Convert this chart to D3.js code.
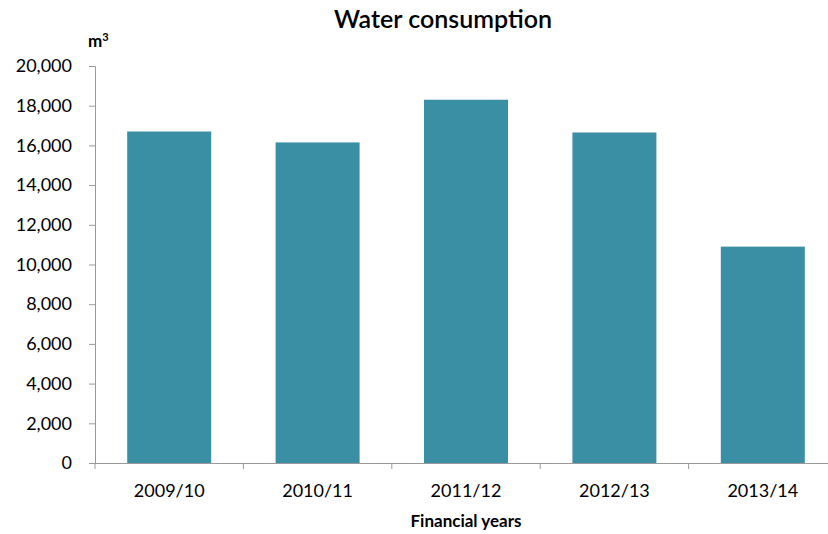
<!DOCTYPE html>
<html>
<head>
<meta charset="utf-8">
<script src="https://cdn.jsdelivr.net/npm/d3@7"></script>
<style>
  body { margin: 0; background: #fff; }
  svg { display: block; font-family: Lato, "Open Sans", sans-serif; }
</style>
</head>
<body>
<div id="chart"></div>
<script>
// values
const years = ["2009/10", "2010/11", "2011/12", "2012/13", "2013/14"];
const consumption = [16700, 16150, 18300, 16650, 10900];
const yTicks = [0, 2000, 4000, 6000, 8000, 10000, 12000, 14000, 16000, 18000, 20000];

const width = 828, height = 534;
const margin = { top: 66, right: -9, bottom: 71, left: 95 };

const svg = d3.select("#chart")
    .append("svg")
    .attr("width", width)
    .attr("height", height);

const xScale = d3.scaleBand()
    .domain(years)
    .range([margin.left, width - margin.right])
    .paddingInner(0.434)
    .paddingOuter(0.217);

const yScale = d3.scaleLinear()
    .domain([0, 20000])
    .range([height - margin.bottom, margin.top]);

// bars
svg.selectAll("rect.bar")
    .data(years)
    .join("rect")
    .attr("class", "bar")
    .attr("x", d => xScale(d))
    .attr("y", (d, i) => yScale(consumption[i]))
    .attr("width", xScale.bandwidth())
    .attr("height", (d, i) => yScale(0) - yScale(consumption[i]))
    .attr("fill", "#3a8fa5");

// y axis
const yAxis = svg.append("g")
    .attr("transform", `translate(${margin.left},0)`)
    .call(d3.axisLeft(yScale).tickValues(yTicks).tickFormat(d3.format(",")).tickSize(6).tickPadding(17));
yAxis.select(".domain").attr("stroke", "#9a9a9a");
yAxis.selectAll(".tick line").attr("stroke", "#9a9a9a");
yAxis.selectAll(".tick text").attr("font-size", 18).attr("fill", "#000").attr("font-family", "Lato, sans-serif");

// x axis: labels centred, ticks at band edges
const xAxis = svg.append("g")
    .attr("transform", `translate(0,${yScale(0)})`)
    .call(d3.axisBottom(xScale).tickSize(0));
xAxis.select(".domain").attr("stroke", "#9a9a9a");
xAxis.selectAll(".tick text")
    .attr("y", 34)
    .attr("dy", null)
    .attr("font-size", 18)
    .attr("fill", "#000")
    .attr("font-family", "Lato, sans-serif");

const step = xScale.step();
const edges = years.map((d, i) => margin.left + i * step).concat([margin.left + years.length * step]);
xAxis.selectAll("line.edge")
    .data(edges)
    .join("line")
    .attr("class", "edge")
    .attr("x1", d => d).attr("x2", d => d)
    .attr("y1", 0).attr("y2", 6)
    .attr("stroke", "#9a9a9a");

// titles
svg.append("text")
    .attr("x", 443)
    .attr("y", 28)
    .attr("text-anchor", "middle")
    .attr("font-size", 25)
    .attr("font-weight", 600)
    .attr("fill", "#000")
    .text("Water consumption");

svg.append("text")
    .attr("x", 88)
    .attr("y", 47)
    .attr("font-size", 17)
    .attr("font-weight", 700)
    .attr("fill", "#000")
    .text("m")
    .append("tspan")
    .attr("dy", -6)
    .attr("font-size", 11)
    .text("3");

svg.append("text")
    .attr("x", 466)
    .attr("y", 527)
    .attr("text-anchor", "middle")
    .attr("font-size", 17)
    .attr("font-weight", 700)
    .attr("fill", "#000")
    .text("Financial years");
</script>
</body>
</html>
